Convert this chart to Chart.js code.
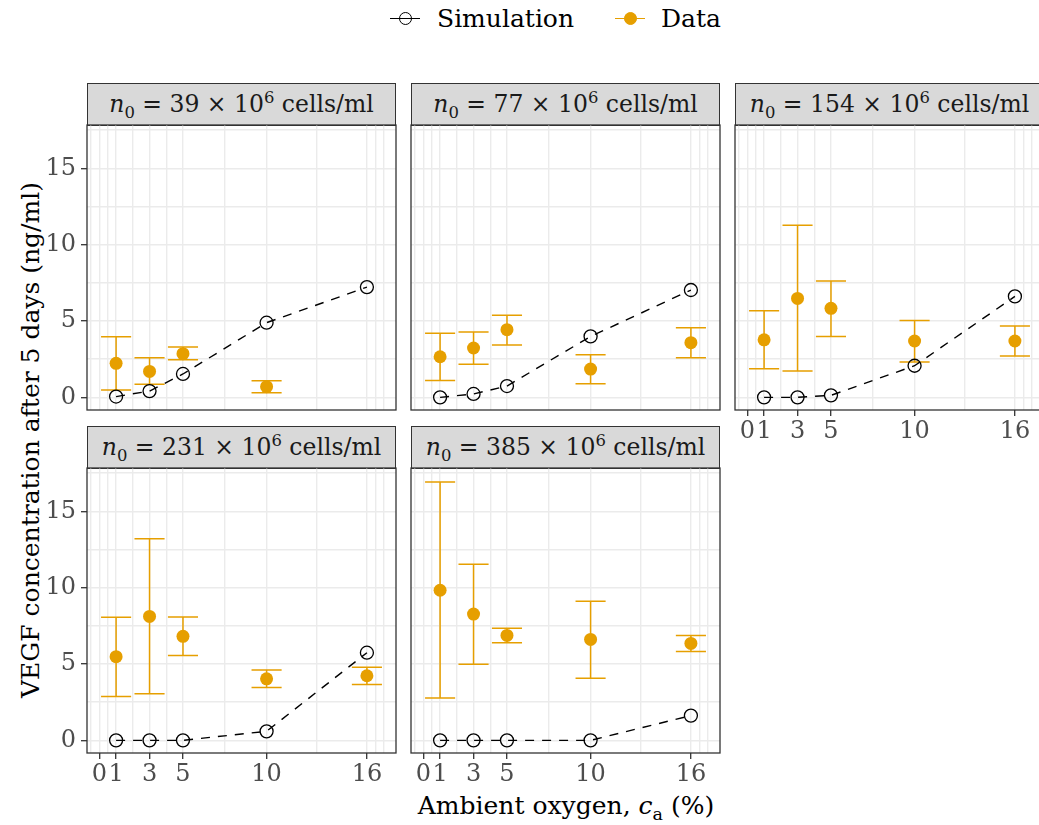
<!DOCTYPE html>
<html>
<head>
<meta charset="utf-8">
<script src="https://cdn.jsdelivr.net/npm/chart.js@4"></script>
<style>
  body { margin: 0; width: 1039px; height: 825px; overflow: hidden; background: #fff; position: relative; font-family: 'DejaVu Serif', serif; color: #000; }
  canvas { position: absolute; }
  .strip { position: absolute; height: 43px; background: #D9D9D9; border: 1.3px solid #333; box-sizing: border-box; text-align: center; line-height: 40px; font-size: 23.5px; color: #1A1A1A; white-space: nowrap; }
  .strip sub, .strip sup { font-size: 0.7em; line-height: 0; }
  .title { position: absolute; font-size: 25px; white-space: nowrap; }
  .title sub { font-size: 0.7em; line-height: 0; }
  #ytitle { left: 30px; top: 440px; transform: translate(-50%, -50%) rotate(-90deg); }
  #xtitle { left: 566px; top: 805px; transform: translate(-50%, -50%); }
  .leg { position: absolute; top: 18px; transform: translateY(-50%); font-size: 25px; white-space: nowrap; }
  .key { position: absolute; top: 18px; width: 30px; height: 0; border-top: 1.4px solid #000; }
  .key i { position: absolute; left: 9px; top: -7.5px; width: 11px; height: 11px; border-radius: 50%; border: 1.3px solid #000; box-sizing: content-box; }
</style>
</head>
<body>
<div class="key" style="left:390px"><i></i></div>
<div class="leg" style="left:437px">Simulation</div>
<div class="key" style="left:615px; border-color:#E69F00"><i style="background:#E69F00; border-color:#E69F00"></i></div>
<div class="leg" style="left:661px">Data</div>
<div class="title" id="ytitle">VEGF concentration after 5 days (ng/ml)</div>
<div class="title" id="xtitle">Ambient oxygen, <i>c</i><sub>a</sub> (%)</div>
<script>
// ─── Data ─────────────────────────────────────────────────────────────────────
const X_MAJOR = [0, 1, 3, 5, 10, 16];
const X_MINOR = [-0.5, 0.5, 2, 4, 7.5, 13, 16.5, 17];
const Y_MAJOR = [0, 5, 10, 15];
const Y_MINOR = [2.5, 7.5, 12.5, 17.5];
const OXYGEN = [1, 3, 5, 10, 16];
const DENSITIES = ['39', '77', '154', '231', '385'];

const sim39 = [0.05, 0.41, 1.53, 4.89, 7.22];
const sim77 = [0.0, 0.22, 0.74, 3.99, 7.03];
const sim154 = [0.0, 0.0, 0.13, 2.07, 6.61];
const sim231 = [0.0, 0.0, 0.0, 0.59, 5.74];
const sim385 = [0.0, 0.0, 0.0, 0.0, 1.62];

const mean39 = [2.23, 1.70, 2.86, 0.70, null];
const lo39 = [0.48, 0.85, 2.46, 0.30, null];
const hi39 = [3.97, 2.60, 3.29, 1.09, null];

const mean77 = [2.66, 3.23, 4.43, 1.85, 3.58];
const lo77 = [1.11, 2.16, 3.42, 0.89, 2.59];
const hi77 = [4.19, 4.28, 5.37, 2.79, 4.56];

const mean154 = [3.77, 6.48, 5.83, 3.69, 3.69];
const lo154 = [1.87, 1.72, 3.99, 2.31, 2.70];
const hi154 = [5.67, 11.28, 7.62, 5.04, 4.67];

const mean231 = [5.48, 8.12, 6.81, 4.03, 4.23];
const lo231 = [2.87, 3.05, 5.56, 3.46, 3.66];
const hi231 = [8.06, 13.20, 8.08, 4.60, 4.79];

const mean385 = [9.83, 8.27, 6.87, 6.61, 6.35];
const lo385 = [2.78, 4.99, 6.39, 4.07, 5.82];
const hi385 = [16.92, 11.54, 7.35, 9.11, 6.87];

// ─── Layout ───────────────────────────────────────────────────────────────────
const PLOT_W = 309, PLOT_H = 285, STRIP_H = 43;
const X_RANGE = [-0.74, 17.74];
const Y_RANGE = [-0.83, 17.84];
const CAP = 0.9;
const ORANGE = '#E69F00';
const FONT = "'DejaVu Serif', serif";

const panels = [
  { n: DENSITIES[0], sim: sim39, mean: mean39, lo: lo39, hi: hi39, left: 87, top: 125, showY: true, showX: false },
  { n: DENSITIES[1], sim: sim77, mean: mean77, lo: lo77, hi: hi77, left: 411, top: 125, showY: false, showX: false },
  { n: DENSITIES[2], sim: sim154, mean: mean154, lo: lo154, hi: hi154, left: 735, top: 125, showY: false, showX: true },
  { n: DENSITIES[3], sim: sim231, mean: mean231, lo: lo231, hi: hi231, left: 87, top: 468, showY: true, showX: true },
  { n: DENSITIES[4], sim: sim385, mean: mean385, lo: lo385, hi: hi385, left: 411, top: 468, showY: false, showX: true },
];

// ─── Plugins ──────────────────────────────────────────────────────────────────
const errorBars = {
  id: 'errorBars',
  beforeDatasetsDraw(chart) {
    const { ctx, scales: { x, y } } = chart;
    chart.data.datasets.forEach(ds => {
      if (!ds.errLo) return;
      ctx.save();
      ctx.strokeStyle = ds.borderColor;
      ctx.lineWidth = 1.5;
      ds.data.forEach((p, i) => {
        const px = x.getPixelForValue(p.x);
        const lo = y.getPixelForValue(ds.errLo[i]);
        const hi = y.getPixelForValue(ds.errHi[i]);
        const cl = x.getPixelForValue(p.x - CAP);
        const cr = x.getPixelForValue(p.x + CAP);
        ctx.beginPath();
        ctx.moveTo(px, lo); ctx.lineTo(px, hi);
        ctx.moveTo(cl, lo); ctx.lineTo(cr, lo);
        ctx.moveTo(cl, hi); ctx.lineTo(cr, hi);
        ctx.stroke();
      });
      ctx.restore();
    });
  }
};

const panelBorder = {
  id: 'panelBorder',
  afterDraw(chart) {
    const { ctx, chartArea: a } = chart;
    ctx.save();
    ctx.strokeStyle = '#333';
    ctx.lineWidth = 1.3;
    ctx.strokeRect(a.left, a.top, a.right - a.left, a.bottom - a.top);
    ctx.restore();
  }
};

// fixed size for a scale, no label overhang padding
function fixScale(s, size) {
  if (s.isHorizontal()) s.height = size; else s.width = size;
  s.paddingTop = s.paddingBottom = s.paddingLeft = s.paddingRight = 0;
}

// ─── Build panels ─────────────────────────────────────────────────────────────
function makePanel(p) {
  const strip = document.createElement('div');
  strip.className = 'strip';
  strip.style.left = p.left + 'px';
  strip.style.top = (p.top - STRIP_H + 1) + 'px';
  strip.style.width = PLOT_W + 'px';
  strip.innerHTML = `<i>n</i><sub>0</sub> = ${p.n} × 10<sup>6</sup> cells/ml`;
  document.body.appendChild(strip);

  const padL = p.showY ? 60 : 2, padB = p.showX ? 40 : 2, padT = 2, padR = 2;
  const canvas = document.createElement('canvas');
  canvas.width = PLOT_W + padL + padR;
  canvas.height = PLOT_H + padT + padB;
  canvas.style.left = (p.left - padL) + 'px';
  canvas.style.top = (p.top - padT) + 'px';
  document.body.appendChild(canvas);

  const simPts = OXYGEN.map((x, i) => ({ x, y: p.sim[i] }));
  const idx = OXYGEN.map((_, i) => i).filter(i => p.mean[i] != null);
  const dataPts = idx.map(i => ({ x: OXYGEN[i], y: p.mean[i] }));

  const gridColor = '#EBEBEB';
  const tickFont = { family: FONT, size: 24 };

  new Chart(canvas, {
    type: 'scatter',
    data: {
      datasets: [
        {
          label: 'Simulation', type: 'line', data: simPts, order: 1,
          borderColor: '#000', borderWidth: 1.4, borderDash: [9, 8], fill: false, tension: 0,
          pointRadius: 6.5, pointBorderWidth: 1.3, pointBorderColor: '#000', pointBackgroundColor: 'rgba(0,0,0,0)',
        },
        {
          label: 'Data', data: dataPts, order: 2,
          errLo: idx.map(i => p.lo[i]), errHi: idx.map(i => p.hi[i]),
          borderColor: ORANGE, backgroundColor: ORANGE,
          pointRadius: 6.5, pointBorderWidth: 0,
        },
      ],
    },
    options: {
      responsive: false,
      animation: false,
      layout: { autoPadding: false, padding: { left: p.showY ? 0 : padL, right: padR, top: padT, bottom: p.showX ? 0 : padB } },
      plugins: { legend: { display: false }, tooltip: { enabled: false } },
      scales: {
        x: {
          type: 'linear', min: X_RANGE[0], max: X_RANGE[1],
          afterBuildTicks: s => { s.ticks = [...X_MAJOR, ...X_MINOR].sort((a, b) => a - b).map(v => ({ value: v })); },
          afterFit: s => fixScale(s, p.showX ? padB : 0),
          border: { display: false },
          grid: {
            color: gridColor, lineWidth: 1.4,
            tickLength: p.showX ? 6 : 0,
            tickColor: c => X_MAJOR.includes(c.tick.value) ? '#333' : 'rgba(0,0,0,0)',
            tickWidth: 1.3,
          },
          ticks: {
            display: p.showX, autoSkip: false, maxRotation: 0, padding: 1,
            color: '#4D4D4D', font: tickFont,
            callback: v => X_MAJOR.includes(v) ? String(v) : '',
          },
        },
        y: {
          type: 'linear', min: Y_RANGE[0], max: Y_RANGE[1],
          afterBuildTicks: s => { s.ticks = [...Y_MAJOR, ...Y_MINOR].sort((a, b) => a - b).map(v => ({ value: v })); },
          afterFit: s => fixScale(s, p.showY ? padL : 0),
          border: { display: false },
          grid: {
            color: gridColor, lineWidth: 1.4,
            tickLength: p.showY ? 6 : 0,
            tickColor: c => Y_MAJOR.includes(c.tick.value) ? '#333' : 'rgba(0,0,0,0)',
            tickWidth: 1.3,
          },
          ticks: {
            display: p.showY, autoSkip: false, padding: 5,
            color: '#4D4D4D', font: tickFont,
            callback: v => Y_MAJOR.includes(v) ? String(v) : '',
          },
        },
      },
    },
    plugins: [errorBars, panelBorder],
  });
}

panels.forEach(makePanel);
</script>
</body>
</html>
